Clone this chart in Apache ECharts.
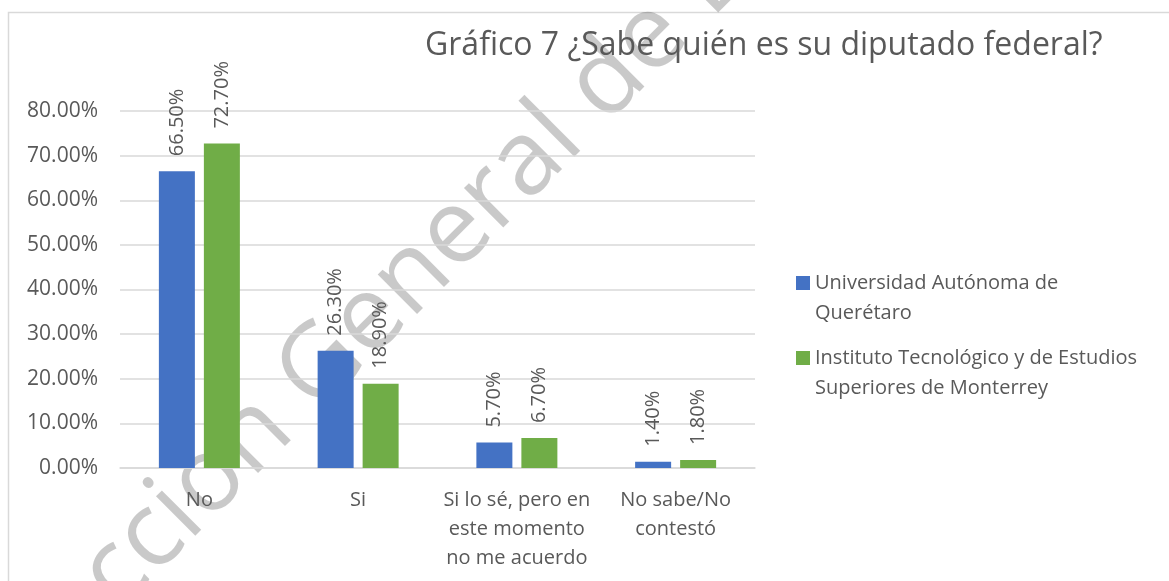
<!DOCTYPE html>
<html>
<head>
<meta charset="utf-8">
<script src="https://cdn.jsdelivr.net/npm/echarts@6/dist/echarts.min.js"></script>
<style>
html, body { margin: 0; padding: 0; background: #fff; }
#echart { width: 1169px; height: 581px; }
</style>
</head>
<body>
<div id="echart"></div>
<script>
// data
var categories = ['No', 'Si', 'Si lo sé, pero en\neste momento\nno me acuerdo', 'No sabe/No\ncontestó'];
var seriesNames = ['Universidad Autónoma de Querétaro', 'Instituto Tecnológico y de Estudios Superiores de Monterrey'];
var legendLabels = ['Universidad Autónoma de\nQuerétaro', 'Instituto Tecnológico y de Estudios\nSuperiores de Monterrey'];
var uaqData = [66.5, 26.3, 5.7, 1.4];
var itesmData = [72.7, 18.9, 6.7, 1.8];
var titleText = 'Gráfico 7 ¿Sabe quién es su diputado federal?';

var font = '"Open Sans", "Noto Sans", sans-serif';
var grey = '#595959';
var markColor = 'rgba(0,0,0,0.21)';

var myChart = echarts.init(document.getElementById('echart'));

function pct(v) {
	return v.toFixed(2) + '%';
}

var barLabel = {
	show: true,
	position: 'top',
	rotate: 90,
	align: 'left',
	verticalAlign: 'middle',
	distance: 15,
	fontFamily: font,
	fontSize: 20,
	color: grey,
	formatter: function (p) { return pct(p.value); }
};

// legend square sits on the first text line
var legendIcon = 'path://M0,0h14v14h-14zM0,43.9h0.1v0.1h-0.1z';

option = {
	animation: false,
	title: {
		text: titleText,
		left: 425,
		top: 30,
		padding: 0,
		textStyle: {
			fontFamily: font,
			fontSize: 32,
			fontWeight: 'normal',
			color: grey
		}
	},
	legend: {
		orient: 'vertical',
		left: 796,
		top: 268,
		padding: 0,
		itemGap: 15,
		itemWidth: 14,
		itemHeight: 44,
		data: [
			{ name: seriesNames[0], icon: legendIcon },
			{ name: seriesNames[1], icon: legendIcon }
		],
		formatter: function (name) {
			return legendLabels[seriesNames.indexOf(name)];
		},
		textStyle: {
			fontFamily: font,
			fontSize: 20,
			lineHeight: 30,
			color: grey
		}
	},
	grid: {
		left: 120,
		right: 414,
		top: 111,
		bottom: 113
	},
	xAxis: {
		type: 'category',
		data: categories,
		axisLine: { lineStyle: { color: '#d9d9d9', width: 1.5 } },
		axisTick: { show: false },
		axisLabel: {
			interval: 0,
			margin: 18,
			fontFamily: font,
			fontSize: 20,
			lineHeight: 29,
			color: grey
		}
	},
	yAxis: {
		type: 'value',
		min: 0,
		max: 80,
		interval: 10,
		axisLine: { show: false },
		axisTick: { show: false },
		splitLine: { lineStyle: { color: '#d9d9d9', width: 1.5 } },
		axisLabel: {
			margin: 22,
			fontFamily: font,
			fontSize: 21,
			color: grey,
			formatter: pct
		}
	},
	series: [{
		name: seriesNames[0],
		type: 'bar',
		barWidth: 36,
		barGap: '25%',
		itemStyle: { color: '#4472c4' },
		label: barLabel,
		data: uaqData
	}, {
		name: seriesNames[1],
		type: 'bar',
		barWidth: 36,
		barGap: '25%',
		itemStyle: { color: '#70ad47' },
		label: barLabel,
		data: itesmData
	}],
	graphic: [{
		type: 'rect',
		silent: true,
		z: -10,
		shape: { x: 8.5, y: 12.5, width: 1400, height: 800 },
		style: { fill: 'none', stroke: '#d9d9d9', lineWidth: 1.5 }
	}, {
		// watermark, split at the start of "General"
		type: 'group',
		silent: true,
		x: 295,
		y: 394,
		rotation: Math.PI / 4,
		z: 100,
		children: [{
			type: 'text',
			style: {
				text: 'Dirección ',
				x: 0, y: 0,
				font: '104px ' + font,
				fill: markColor,
				textAlign: 'right',
				textVerticalAlign: 'middle'
			}
		}, {
			type: 'text',
			style: {
				text: 'General de Bibliotecas',
				x: 0, y: 0,
				font: '104px ' + font,
				fill: markColor,
				textAlign: 'left',
				textVerticalAlign: 'middle'
			}
		}]
	}]
};
myChart.setOption(option);
</script>
</body>
</html>
